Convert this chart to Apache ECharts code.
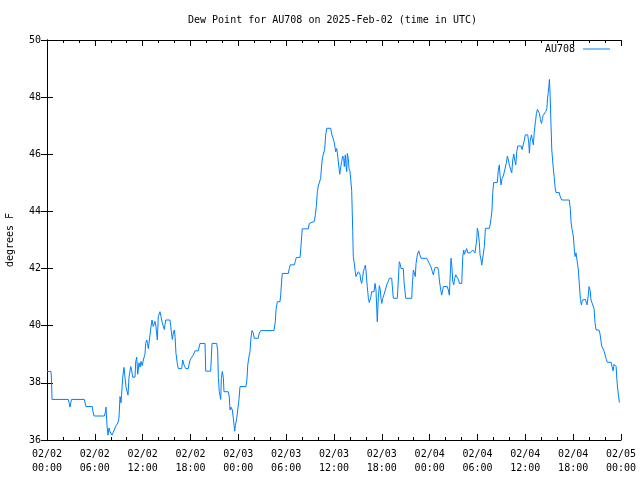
<!DOCTYPE html>
<html>
<head>
<meta charset="utf-8">
<script src="https://cdn.jsdelivr.net/npm/echarts@6/dist/echarts.min.js"></script>
<style>html,body{margin:0;padding:0;background:#fff}#c{width:640px;height:480px}</style>
</head>
<body>
<div id="c"></div>
<script>
var titleText = 'Dew Point for AU708 on 2025-Feb-02 (time in UTC)';
var seriesName = 'AU708';
var yAxisName = 'degrees F';
var startDay = 2; // 2025-02-02 00:00 UTC
var hours = [0,0.5,0.56,0.63,2.67,2.89,3.07,4.68,4.89,5.68,5.77,5.9,7.19,7.34,7.4,7.53,7.65,7.78,7.9,8.15,8.4,8.66,8.9,9.03,9.16,9.28,9.35,9.5,9.66,9.78,9.91,10.16,10.29,10.5,10.62,10.75,11.04,11.13,11.25,11.38,11.54,11.67,11.79,11.95,12.08,12.29,12.38,12.51,12.61,12.71,12.92,13.05,13.17,13.33,13.55,13.67,13.84,13.96,14.17,14.3,14.46,14.59,14.71,14.89,15.43,15.52,15.72,15.84,15.97,16.06,16.18,16.34,16.47,16.9,17.02,17.19,17.4,17.72,17.94,18.15,18.35,18.57,18.98,19.19,19.82,19.91,20.53,20.7,21.29,21.41,21.49,21.61,21.79,21.87,21.99,22.12,22.2,22.74,22.87,22.96,23.08,23.17,23.25,23.37,23.46,23.55,23.62,23.8,23.92,24.08,24.21,24.96,25.09,25.18,25.3,25.46,25.59,25.72,25.88,26.0,26.5,26.63,26.81,28.47,28.64,28.73,28.89,29.23,29.32,29.44,29.52,30.27,30.39,30.52,31.02,31.15,31.27,31.74,31.82,31.95,32.02,32.78,32.9,33.03,33.53,33.66,33.78,33.91,34.03,34.24,34.33,34.46,34.58,34.75,34.83,34.96,35.09,35.59,35.71,35.84,36.0,36.13,36.21,36.34,36.42,36.54,36.63,36.72,36.84,36.97,37.09,37.22,37.29,37.42,37.51,37.59,37.67,37.8,37.88,38.01,38.13,38.22,38.35,38.42,38.55,38.67,38.76,38.97,39.05,39.14,39.26,39.35,39.47,39.6,39.68,39.8,39.93,40.01,40.1,40.18,40.31,40.43,40.61,40.73,41.02,41.15,41.27,41.36,41.43,41.56,41.69,41.78,41.9,41.99,42.11,42.28,42.44,42.61,42.81,42.94,43.24,43.31,43.44,43.94,44.07,44.19,44.32,44.41,44.7,44.78,44.91,45.0,45.75,45.82,45.95,46.07,46.2,46.29,46.45,46.63,46.75,46.92,47.63,47.76,47.92,48.04,48.17,48.33,48.46,48.58,48.71,49.01,49.13,49.21,49.39,49.51,49.64,49.71,50.21,50.34,50.47,50.55,50.68,50.81,50.89,51.02,51.14,51.27,51.52,51.64,51.72,52.02,52.15,52.27,52.35,52.48,52.65,52.78,52.9,53.07,53.28,53.4,53.57,53.69,53.82,53.9,53.98,54.11,54.23,54.32,54.45,54.53,54.74,54.86,54.99,55.49,55.62,55.7,55.82,55.91,56.03,56.49,56.61,56.74,56.83,56.95,57.08,57.24,57.49,57.62,57.75,57.87,58.0,58.17,58.3,58.42,58.55,58.67,58.8,58.93,59.05,59.46,59.59,59.72,59.84,60.0,60.3,60.43,60.51,60.6,60.76,60.89,61.01,61.14,61.27,61.39,61.52,61.64,61.77,61.89,62.02,62.15,62.23,62.4,62.57,62.7,62.77,62.86,62.95,63.02,63.11,63.2,63.32,63.45,63.61,63.72,63.85,64.26,64.35,64.56,65.51,65.64,65.73,65.86,66.02,66.15,66.24,66.36,66.45,66.53,66.65,66.78,66.91,67.03,67.16,67.28,67.41,67.53,67.66,67.74,67.87,67.99,68.12,68.24,68.45,68.62,68.74,68.87,69.24,69.37,69.5,69.58,69.79,69.91,70.04,70.16,70.29,70.76,70.88,71.01,71.13,71.26,71.39,71.47,71.55,71.67,71.8];
var dewPoint = [38.4,38.4,38.16,37.42,37.42,37.15,37.42,37.42,37.17,37.17,36.99,36.84,36.84,36.99,37.15,36.5,36.17,36.42,36.3,36.17,36.17,36.5,36.6,36.78,37.52,37.3,37.55,38.2,38.54,38.2,37.85,37.57,38.2,38.57,38.45,38.2,38.2,38.74,38.9,38.3,38.7,38.55,38.75,38.6,38.8,39.0,39.38,39.5,39.38,39.2,39.2,39.97,40.2,39.97,40.15,39.97,39.5,40.32,40.49,40.32,40.1,40.1,39.87,40.2,40.2,39.97,39.52,39.74,39.85,39.63,39.03,38.68,38.5,38.5,38.8,38.63,38.5,38.5,38.8,38.85,38.97,39.12,39.12,39.38,39.38,38.41,38.41,39.38,39.38,39.12,38.2,37.69,37.42,38.16,38.4,38.18,37.69,37.69,37.5,37.05,37.15,37.2,37.05,36.76,36.53,36.31,36.5,36.76,37.05,37.42,37.87,37.87,38.16,38.62,38.86,39.09,39.59,39.83,39.74,39.56,39.56,39.74,39.83,39.83,40.14,40.57,40.84,40.84,41.1,41.6,41.83,41.83,42.0,42.13,42.13,42.25,42.39,42.39,42.65,43.14,43.39,43.39,43.58,43.65,43.65,43.88,44.17,44.69,44.89,44.89,45.16,45.66,45.92,45.92,46.17,46.68,46.91,46.91,46.71,46.6,46.45,46.25,46.09,46.2,46.05,45.98,45.51,45.3,45.55,45.75,45.94,45.85,45.57,45.98,45.57,45.39,46.03,45.85,45.5,45.4,45.4,44.73,43.29,42.42,42.16,41.89,41.72,41.72,41.89,41.95,41.8,41.6,41.48,41.7,41.89,42.0,42.12,41.95,41.6,41.37,40.96,40.81,41.0,41.19,41.19,41.48,41.25,40.61,40.14,41.0,41.4,41.3,40.95,40.78,40.95,41.1,41.25,41.43,41.55,41.66,41.66,41.4,40.96,40.96,41.6,42.24,42.15,42.0,42.0,41.55,41.19,40.96,40.96,41.4,41.95,41.85,41.72,42.18,42.47,42.62,42.5,42.36,42.36,42.3,42.2,42.15,42.05,41.9,41.78,41.95,42.04,42.04,41.9,41.6,41.25,41.07,41.25,41.37,41.37,41.25,41.07,41.6,42.36,42.0,41.55,41.43,41.65,41.78,41.78,41.6,41.48,41.48,42.42,42.65,42.5,42.48,42.7,42.55,42.48,42.55,42.5,42.65,42.7,42.55,42.48,43.0,43.41,43.25,42.9,42.48,42.3,42.12,42.12,42.77,43.41,43.41,43.59,43.76,44.05,44.66,45.01,45.01,45.45,45.63,45.25,44.93,45.15,45.24,45.24,45.7,45.94,45.8,45.63,45.45,45.35,45.8,46.01,45.8,45.63,46.1,46.29,46.29,46.17,46.1,46.45,46.68,46.68,46.4,46.04,46.45,46.68,46.5,46.33,46.85,47.14,47.43,47.57,47.5,47.43,47.22,47.08,47.25,47.36,47.43,47.5,47.6,47.9,48.13,48.37,48.62,48.08,47.2,46.15,45.69,45.22,44.87,44.66,44.66,44.54,44.4,44.4,44.11,43.64,43.37,43.14,42.65,42.42,42.55,42.6,42.5,41.95,41.43,40.92,40.73,40.9,40.92,40.9,40.92,40.85,40.73,41.0,41.37,41.25,40.9,40.9,40.6,40.11,39.85,39.85,39.71,39.44,39.29,39.25,39.09,38.94,38.82,38.72,38.72,38.57,38.42,38.65,38.72,38.57,38.16,37.89,37.58,37.31];
var xMin = 0, xMax = 72, xStep = 6;
var yMin = 36, yMax = 50, yStep = 2;

function pad(n){ return (n < 10 ? '0' : '') + n; }
function timeLabel(h){
  var d = startDay + Math.floor(h / 24);
  var hh = Math.round(h % 24);
  return '02/' + pad(d) + '\n' + pad(hh) + ':00';
}
var FONT = 'DejaVu Sans Mono';
var data = hours.map(function(h, i){ return [h, dewPoint[i]]; });
var lineStyleAxis = {color: '#000', width: 1};
var chart = echarts.init(document.getElementById('c'), null, {renderer: 'canvas'});
chart.setOption({
  animation: false,
  backgroundColor: '#fff',
  title: {
    text: titleText, left: 183, top: 10,
    textStyle: {fontFamily: FONT, fontSize: 10, fontWeight: 'normal', color: '#000'}
  },
  legend: {
    data: [seriesName], right: 25, top: 39, align: 'right',
    icon: 'rect', itemWidth: 27, itemHeight: 1, itemGap: 8,
    textStyle: {fontFamily: FONT, fontSize: 10, color: '#000', padding: [0, 3, 0, 0]}
  },
  grid: {left: 47, right: 19, top: 40, bottom: 40, containLabel: false, outerBoundsMode: 'none'},
  xAxis: [{
    type: 'value', min: xMin, max: xMax, interval: xStep, position: 'bottom',
    axisLine: {show: true, lineStyle: lineStyleAxis},
    axisTick: {show: true, inside: true, length: 6, lineStyle: lineStyleAxis},
    minorTick: {show: true, splitNumber: 3, length: 3, lineStyle: lineStyleAxis},
    splitLine: {show: false},
    axisLabel: {formatter: timeLabel, fontFamily: FONT, fontSize: 10, color: '#000', lineHeight: 14, margin: 7}
  }, {
    type: 'value', min: xMin, max: xMax, interval: xStep, position: 'top',
    axisLine: {show: true, lineStyle: lineStyleAxis},
    axisTick: {show: true, inside: true, length: 6, lineStyle: lineStyleAxis},
    minorTick: {show: true, splitNumber: 3, length: 3, lineStyle: lineStyleAxis},
    splitLine: {show: false}, axisLabel: {show: false}
  }],
  yAxis: [{
    type: 'value', min: yMin, max: yMax, interval: yStep, position: 'left',
    name: yAxisName, nameLocation: 'middle', nameGap: 32, nameRotate: 90,
    nameTextStyle: {fontFamily: FONT, fontSize: 10, color: '#000'},
    axisLine: {show: true, lineStyle: lineStyleAxis},
    axisTick: {show: true, inside: true, length: 6, lineStyle: lineStyleAxis},
    splitLine: {show: false},
    axisLabel: {fontFamily: FONT, fontSize: 10, color: '#000', margin: 6}
  }, {
    type: 'value', min: yMin, max: yMax, interval: yStep, position: 'right',
    axisLine: {show: true, lineStyle: lineStyleAxis},
    axisTick: {show: true, inside: true, length: 6, lineStyle: lineStyleAxis},
    splitLine: {show: false}, axisLabel: {show: false}
  }],
  series: [{
    name: seriesName, type: 'line', data: data, xAxisIndex: 0, yAxisIndex: 0,
    showSymbol: false, symbol: 'none', smooth: false,
    lineStyle: {color: '#0080ff', width: 1}, itemStyle: {color: '#0080ff'}
  }]
});
</script>
</body>
</html>
